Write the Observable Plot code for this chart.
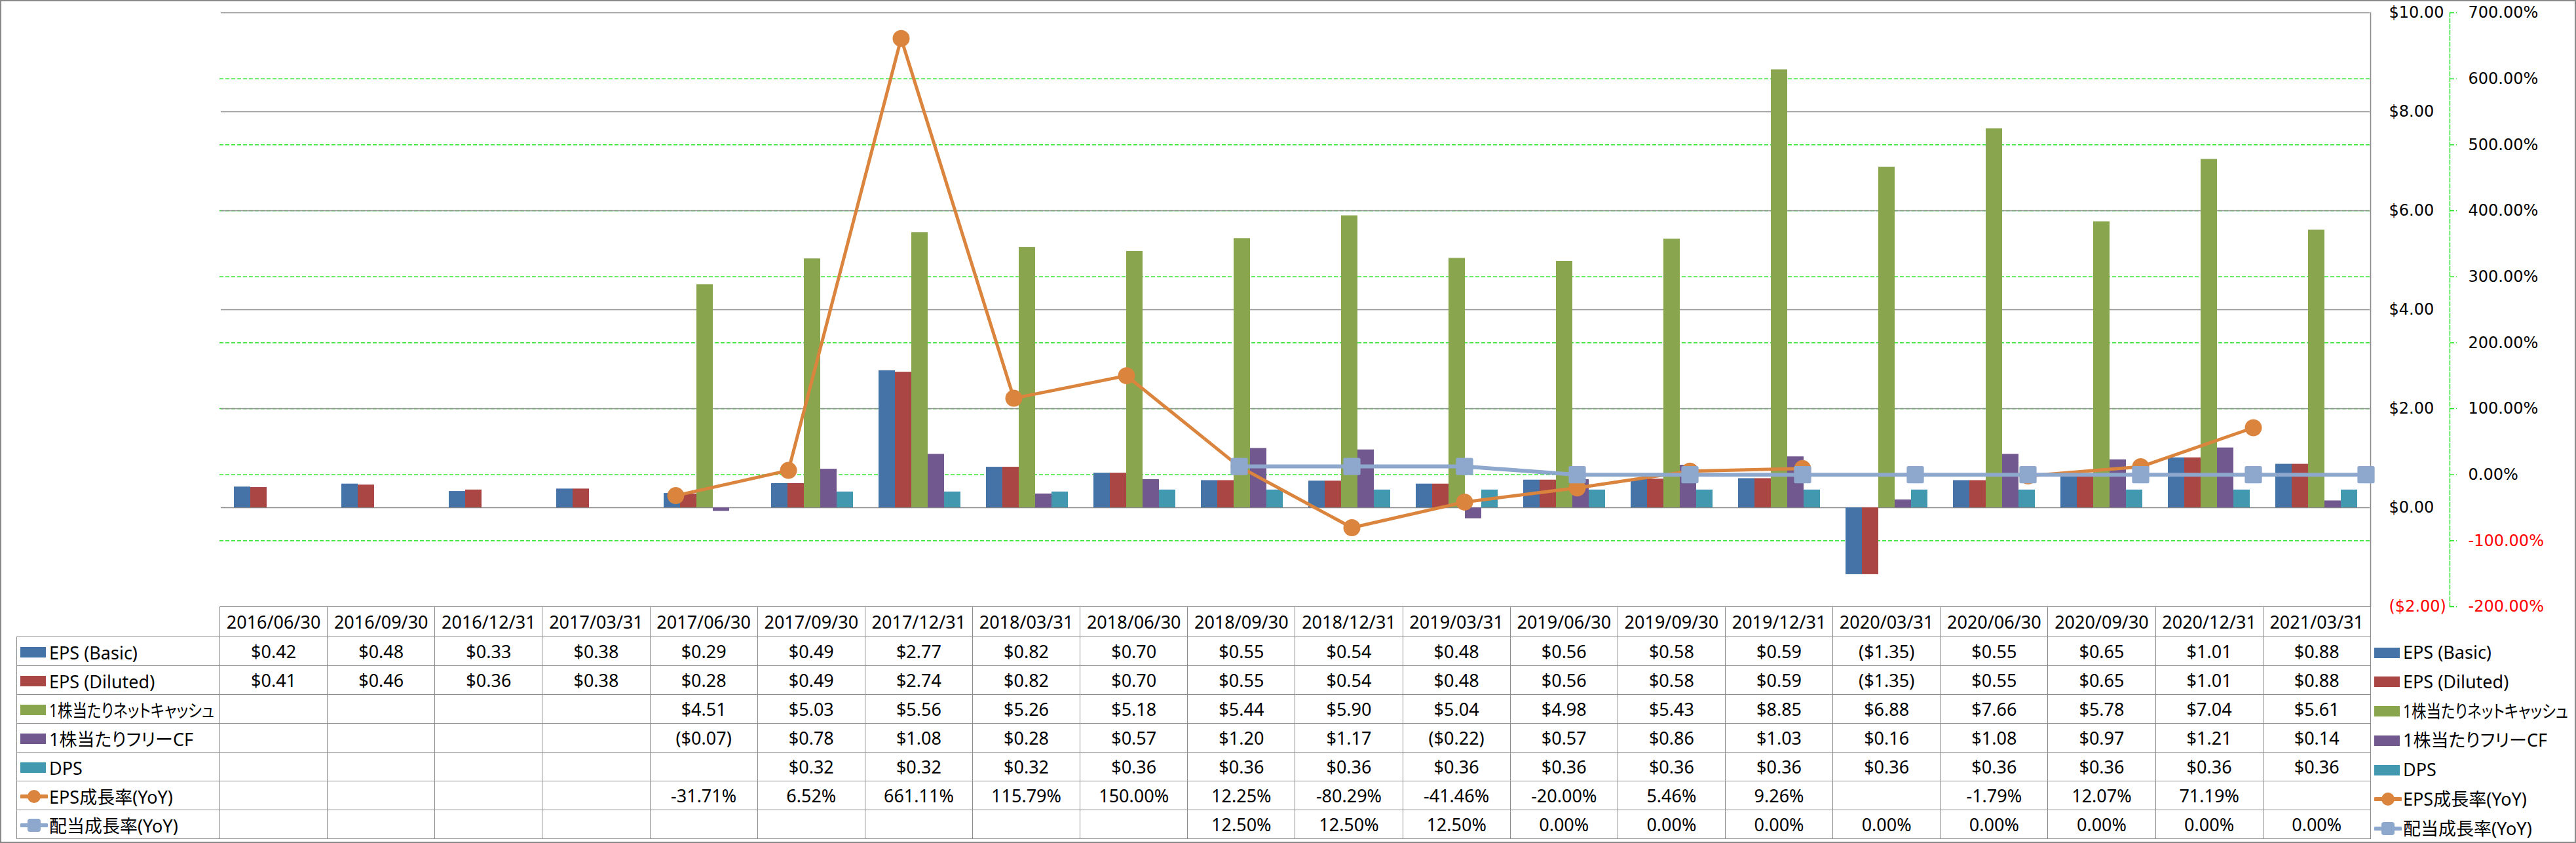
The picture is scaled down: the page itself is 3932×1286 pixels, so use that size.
<!DOCTYPE html>
<html>
<head>
<meta charset="utf-8">
<script src="https://cdn.jsdelivr.net/npm/d3@7"></script>
<script src="https://cdn.jsdelivr.net/npm/@observablehq/plot@0.6"></script>
<style>
  html, body { margin: 0; padding: 0; background: #fff; }
  #wrap { position: relative; width: 3932px; height: 1286px; overflow: hidden; background: #fff;
          font-family: "Noto Sans", "Noto Sans CJK JP", sans-serif; color: #000; }
  .layer { position: absolute; left: 0; top: 0; }
  .layer svg { display: block; }
  #outer { position: absolute; left: 0; top: 0; width: 3932px; height: 1286px; box-sizing: border-box;
           border: 2px solid #888; pointer-events: none; }
  table.dt { position: absolute; left: 25px; top: 925px; border-collapse: collapse; table-layout: fixed;
             width: 3593px; font-size: 27px; }
  table.dt td { border: 1px solid #8c8c8c; text-align: center; padding: 0; height: 43px;
                white-space: nowrap; overflow: hidden; }
  table.dt tr.hdr td { height: 45px; }
  table.dt td.corner { border-top: none; border-left: none; }
  table.dt td.lab { text-align: left; padding-left: 5px; overflow: visible; }
  .sw { display: inline-block; width: 39px; height: 16px; vertical-align: middle; margin-right: 5px; }
  .lsw { display: inline-block; width: 42px; height: 28px; vertical-align: middle; margin-right: 2px; }
  .lt { display: inline-block; vertical-align: middle; font-feature-settings: "palt"; transform-origin: left center; }
  #legend { position: absolute; left: 3624px; top: 971px; font-size: 27px; white-space: nowrap; }
  #legend .it { height: 44.7px; line-height: 44.7px; }
</style>
</head>
<body>
<div id="wrap"></div>
<script>
// ---------- data ----------
const dates = ["2016/06/30","2016/09/30","2016/12/31","2017/03/31","2017/06/30","2017/09/30","2017/12/31",
  "2018/03/31","2018/06/30","2018/09/30","2018/12/31","2019/03/31","2019/06/30","2019/09/30","2019/12/31",
  "2020/03/31","2020/06/30","2020/09/30","2020/12/31","2021/03/31"];
const epsBasic   = [0.42,0.48,0.33,0.38,0.29,0.49,2.77,0.82,0.70,0.55,0.54,0.48,0.56,0.58,0.59,-1.35,0.55,0.65,1.01,0.88];
const epsDiluted = [0.41,0.46,0.36,0.38,0.28,0.49,2.74,0.82,0.70,0.55,0.54,0.48,0.56,0.58,0.59,-1.35,0.55,0.65,1.01,0.88];
const netCashPerShare = [null,null,null,null,4.51,5.03,5.56,5.26,5.18,5.44,5.90,5.04,4.98,5.43,8.85,6.88,7.66,5.78,7.04,5.61];
const fcfPerShare     = [null,null,null,null,-0.07,0.78,1.08,0.28,0.57,1.20,1.17,-0.22,0.57,0.86,1.03,0.16,1.08,0.97,1.21,0.14];
const dps             = [null,null,null,null,null,0.32,0.32,0.32,0.36,0.36,0.36,0.36,0.36,0.36,0.36,0.36,0.36,0.36,0.36,0.36];
const epsGrowth = [null,null,null,null,-31.71,6.52,661.11,115.79,150.00,12.25,-80.29,-41.46,-20.00,5.46,9.26,null,-1.79,12.07,71.19,null];
const divGrowth = [null,null,null,null,null,null,null,null,null,12.50,12.50,12.50,0,0,0,0,0,0,0,0];

const barNames  = ["EPS (Basic)","EPS (Diluted)","1株当たりネットキャッシュ","1株当たりフリーCF","DPS"];
const lineNames = ["EPS成長率(YoY)","配当成長率(YoY)"];
const barColors  = ["#4572A7","#AA4643","#89A54E","#71588F","#4198AF"];
const lineColors = ["#DB843D","#8EA7CD"];
const dollarTicks = [-2,0,2,4,6,8,10];
const pctTicks = [-200,-100,0,100,200,300,400,500,600,700];

// ---------- helpers ----------
const fmtDollar = v => v < 0 ? `($${(-v).toFixed(2)})` : `$${v.toFixed(2)}`;
const fmtPct = v => `${v.toFixed(2)}%`;
const barArrays = [epsBasic, epsDiluted, netCashPerShare, fcfPerShare, dps];
const barData = [];
barArrays.forEach((arr, k) => arr.forEach((v, i) => {
  if (v != null) barData.push({date: dates[i], series: barNames[k], value: v});
}));
const epsLine = dates.map((d, i) => ({date: d, value: epsGrowth[i]}));
const divLine = dates.map((d, i) => ({date: d, value: divGrowth[i]}));

const W = 3932, H = 955, mL = 335, mR = 314, mT = 19, mB = 30;
const axisFont = "DejaVu Sans";
const green = "#00E000";
const base = {width: W, height: H, marginLeft: mL, marginTop: mT, marginBottom: mB,
  style: {background: "transparent", overflow: "visible"}};

const wrap = document.getElementById("wrap");
function addLayer(node) {
  const d = document.createElement("div");
  d.className = "layer";
  d.appendChild(node);
  wrap.appendChild(d);
}

// Layer 1: percentage gridlines + plot right border
addLayer(Plot.plot({
  ...base, marginRight: mR,
  x: {domain: dates, axis: null},
  y: {domain: [-200, 700], axis: null},
  marks: [
    Plot.ruleY(pctTicks.filter(t => t > -200 && t < 700), {stroke: green, strokeDasharray: "6,3", strokeWidth: 1.3}),
    Plot.frame({anchor: "right", stroke: "#888", strokeWidth: 1.5})
  ]
}));

// Layer 2: bars on the dollar axis
addLayer(Plot.plot({
  ...base, marginRight: mR,
  fx: {domain: dates, padding: 0, axis: null},
  x: {domain: barNames, paddingInner: 0, paddingOuter: 0.744, axis: null},
  y: {domain: [-2, 10], label: null},
  color: {domain: barNames, range: barColors},
  marks: [
    Plot.gridY({ticks: dollarTicks.filter(t => t > -2), stroke: "#888", strokeOpacity: 1, strokeWidth: 1.3}),
    Plot.barY(barData, {fx: "date", x: "series", y: "value", fill: "series"}),
    Plot.axisY({anchor: "right", ticks: dollarTicks.filter(t => t >= 0), tickSize: 0, tickPadding: 29,
      tickFormat: fmtDollar, fill: "#000", fontFamily: axisFont, fontSize: 24, label: null}),
    Plot.axisY({anchor: "right", ticks: dollarTicks.filter(t => t < 0), tickSize: 0, tickPadding: 29,
      tickFormat: fmtDollar, fill: "#FF0000", fontFamily: axisFont, fontSize: 24, label: null})
  ]
}));

// Layer 3: growth lines on the percentage axis
addLayer(Plot.plot({
  ...base, marginRight: 193,
  x: {domain: dates, range: [mL, W - mR], padding: 0, axis: null},
  y: {domain: [-200, 700], label: null},
  marks: [
    Plot.frame({anchor: "right", stroke: green, strokeDasharray: "6,3", strokeWidth: 1.3}),
    Plot.axisY({anchor: "right", ticks: pctTicks, tickSize: 10, stroke: green, strokeWidth: 1.3,
      strokeDasharray: "6,3", fill: "none", label: null}),
    Plot.axisY({anchor: "right", ticks: pctTicks.filter(t => t >= 0), tickSize: 0, tickPadding: 28,
      tickFormat: fmtPct, fill: "#000", fontFamily: axisFont, fontSize: 24, label: null}),
    Plot.axisY({anchor: "right", ticks: pctTicks.filter(t => t < 0), tickSize: 0, tickPadding: 28,
      tickFormat: fmtPct, fill: "#FF0000", fontFamily: axisFont, fontSize: 24, label: null}),
    Plot.lineY(epsLine, {x: "date", y: "value", stroke: lineColors[0], strokeWidth: 5}),
    Plot.dot(epsLine.filter(d => d.value != null), {x: "date", y: "value", r: 13, fill: lineColors[0], stroke: null}),
    Plot.lineY(divLine, {x: "date", y: "value", stroke: lineColors[1], strokeWidth: 6}),
    Plot.dot(divLine.filter(d => d.value != null), {x: "date", y: "value", symbol: "square", r: 12,
      fill: lineColors[1], stroke: lineColors[1], strokeWidth: 5, strokeLinejoin: "round"})
  ]
}));

// ---------- data table ----------
function barSwatch(c) { return `<span class="sw" style="background:${c}"></span>`; }
function lineSwatch(c, square) {
  const m = square
    ? `<rect x="11" y="4" width="20" height="20" rx="4" fill="${c}"/>`
    : `<circle cx="21" cy="14" r="10" fill="${c}"/>`;
  return `<svg class="lsw" viewBox="0 0 42 28"><line x1="2" y1="14" x2="40" y2="14" stroke="${c}" stroke-width="6" stroke-linecap="round"/>${m}</svg>`;
}
const rows = [
  ...barNames.map((n, k) => ({name: n, sw: barSwatch(barColors[k]), values: barArrays[k], fmt: fmtDollar})),
  {name: lineNames[0], sw: lineSwatch(lineColors[0], false), values: epsGrowth, fmt: fmtPct},
  {name: lineNames[1], sw: lineSwatch(lineColors[1], true), values: divGrowth, fmt: fmtPct}
];
let html = `<colgroup><col style="width:310px">` + dates.map(() => `<col style="width:164.15px">`).join("") + `</colgroup>`;
html += `<tr class="hdr"><td class="corner"></td>` + dates.map(d => `<td>${d}</td>`).join("") + `</tr>`;
rows.forEach(r => {
  html += `<tr><td class="lab">${r.sw}<span class="lt">${r.name}</span></td>` +
    r.values.map(v => `<td>${v == null ? "" : r.fmt(v)}</td>`).join("") + `</tr>`;
});
const tbl = document.createElement("table");
tbl.className = "dt";
tbl.innerHTML = html;
wrap.appendChild(tbl);

// right-hand legend
const leg = document.createElement("div");
leg.id = "legend";
leg.innerHTML = rows.map(r => `<div class="it">${r.sw}<span class="lt">${r.name}</span></div>`).join("");
wrap.appendChild(leg);

// condense labels that would overflow their space (the original uses a narrow face)
const maxLabel = 252;
document.querySelectorAll(".lt").forEach(s => {
  const w = s.getBoundingClientRect().width;
  if (w > maxLabel) s.style.transform = `scaleX(${maxLabel / w})`;
});

const outer = document.createElement("div");
outer.id = "outer";
wrap.appendChild(outer);
</script>
</body>
</html>
